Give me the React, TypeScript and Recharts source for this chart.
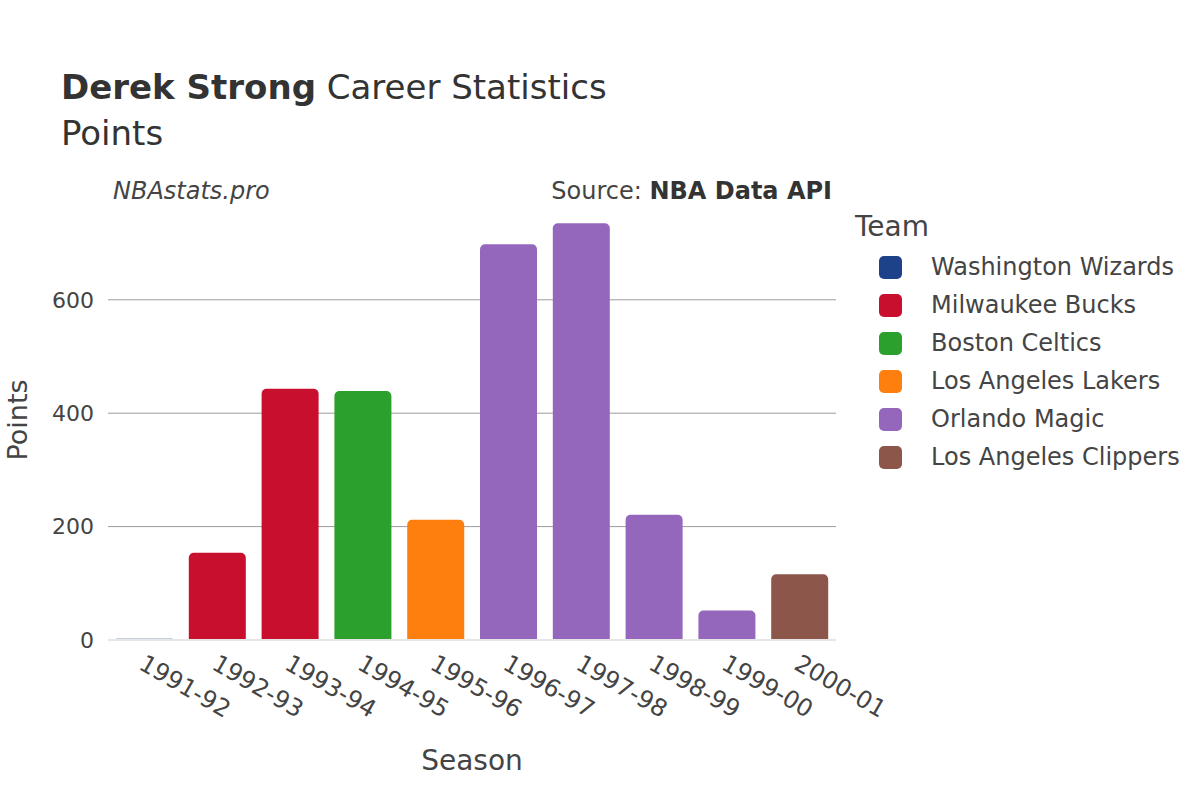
import { BarChart, Bar, XAxis, YAxis, CartesianGrid } from 'recharts';

const FONT = '"DejaVu Sans", Verdana, sans-serif';
const TEXT = '#444';

const seasons = [
  '1991-92', '1992-93', '1993-94', '1994-95', '1995-96',
  '1996-97', '1997-98', '1998-99', '1999-00', '2000-01',
];

// team of each season and the points scored that season
const seasonTeams = [
  'Washington Wizards', 'Milwaukee Bucks', 'Milwaukee Bucks', 'Boston Celtics',
  'Los Angeles Lakers', 'Orlando Magic', 'Orlando Magic', 'Orlando Magic',
  'Orlando Magic', 'Los Angeles Clippers',
];
const points = [2, 154, 443, 439, 212, 698, 735, 221, 52, 116];

const teams = [
  'Washington Wizards',
  'Milwaukee Bucks',
  'Boston Celtics',
  'Los Angeles Lakers',
  'Orlando Magic',
  'Los Angeles Clippers',
];
const teamColors = ['#1d428a', '#c8102e', '#2ca02c', '#ff7f0e', '#9467bd', '#8c564b'];

const yTicks = [0, 200, 400, 600];

const rows = seasons.map((season, i) => {
  const row: Record<string, string | number> = { season };
  row[seasonTeams[i]] = points[i];
  return row;
});

function SeasonTick({ x, y, payload }: any) {
  return (
    <text
      x={0}
      y={0}
      transform={`translate(${x + 2},${y + 5}) rotate(30)`}
      textAnchor="start"
      dominantBaseline="hanging"
      fontFamily={FONT}
      fontSize={24}
      fill={TEXT}
    >
      {payload.value}
    </text>
  );
}

function TeamLegend() {
  return (
    <div style={{ position: 'absolute', left: 855, top: 210, fontFamily: FONT, color: TEXT }}>
      <div style={{ fontSize: 28, marginBottom: 5 }}>Team</div>
      {teams.map((t, i) => (
        <div key={t} style={{ display: 'flex', alignItems: 'center', height: 38 }}>
          <span
            style={{
              display: 'inline-block',
              width: 23,
              height: 23,
              borderRadius: 5,
              background: teamColors[i],
              marginLeft: 24,
              marginRight: 29,
            }}
          />
          <span style={{ fontSize: 24, whiteSpace: 'nowrap' }}>{t}</span>
        </div>
      ))}
    </div>
  );
}

export default function App() {
  return (
    <div
      style={{
        position: 'absolute',
        left: 0,
        top: 0,
        width: 1200,
        height: 800,
        background: '#fff',
        fontFamily: FONT,
        color: TEXT,
      }}
    >
      <BarChart
        width={1200}
        height={800}
        data={rows}
        margin={{ top: 200, right: 364, left: 0, bottom: 0 }}
        barCategoryGap="11%"
      >
        <CartesianGrid
          vertical={false}
          horizontalValues={[200, 400, 600]}
          stroke="#9c9c9c"
        />
        <XAxis
          dataKey="season"
          height={160}
          interval={0}
          tickLine={false}
          axisLine={{ stroke: '#e6e6e6', strokeWidth: 2 }}
          tick={<SeasonTick />}
        />
        <YAxis
          width={108}
          domain={[0, 776]}
          ticks={yTicks}
          axisLine={false}
          tickLine={false}
          tickMargin={8}
          tick={{ fontFamily: FONT, fontSize: 22, fill: TEXT }}
        />
        {teams.map((t, i) => (
          <Bar
            key={t}
            dataKey={t}
            stackId="s"
            fill={teamColors[i]}
            radius={[5, 5, 0, 0]}
            isAnimationActive={false}
          />
        ))}
      </BarChart>

      <TeamLegend />

      <div style={{ position: 'absolute', left: 61, top: 67, fontSize: 34, color: '#333', whiteSpace: 'nowrap' }}>
        <b>Derek Strong</b> Career Statistics
      </div>
      <div style={{ position: 'absolute', left: 61, top: 113, fontSize: 34, color: '#333' }}>Points</div>
      <div style={{ position: 'absolute', left: 113, top: 177, fontSize: 24, fontStyle: 'italic', color: TEXT }}>
        NBAstats.pro
      </div>
      <div style={{ position: 'absolute', right: 368, top: 177, fontSize: 24, color: TEXT, whiteSpace: 'nowrap' }}>
        Source: <b style={{ color: '#333' }}>NBA Data API</b>
      </div>
      <div
        style={{
          position: 'absolute',
          left: 17,
          top: 420,
          fontSize: 27,
          transform: 'translate(-50%, -50%) rotate(-90deg)',
          whiteSpace: 'nowrap',
        }}
      >
        Points
      </div>
      <div style={{ position: 'absolute', left: 472, top: 760, fontSize: 28, transform: 'translate(-50%, -50%)' }}>
        Season
      </div>
    </div>
  );
}
